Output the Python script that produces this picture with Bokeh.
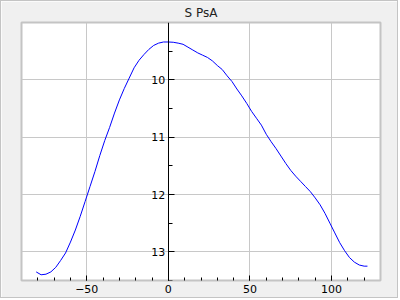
from bokeh.plotting import figure
from bokeh.models import Range1d, FixedTicker
from bokeh.embed import file_html
from bokeh.resources import INLINE

x_vals = [-81, -78, -75, -72, -69, -66, -63, -60, -57, -54, -51, -48, -45, -42, -39, -36, -33, -30,
          -27, -24, -21, -18, -15, -12, -9, -6, -3, 0, 3, 6, 9, 12, 15, 18, 21, 24, 27, 30, 33, 36,
          39, 42, 45, 48, 51, 54, 57, 60, 63, 66, 69, 72, 75, 78, 81, 84, 87, 90, 93, 96, 99, 102,
          105, 108, 111, 114, 117, 120, 122]
y_vals = [13.35, 13.40, 13.39, 13.35, 13.27, 13.15, 13.02, 12.83, 12.62, 12.38, 12.12, 11.86, 11.60,
          11.32, 11.06, 10.83, 10.58, 10.35, 10.15, 9.97, 9.79, 9.66, 9.56, 9.47, 9.40, 9.36, 9.34,
          9.34, 9.345, 9.36, 9.38, 9.43, 9.48, 9.53, 9.57, 9.61, 9.67, 9.75, 9.82, 9.93, 10.03, 10.16,
          10.28, 10.41, 10.55, 10.67, 10.79, 10.95, 11.08, 11.20, 11.33, 11.46, 11.58, 11.68, 11.77,
          11.86, 11.95, 12.06, 12.18, 12.33, 12.50, 12.67, 12.84, 12.98, 13.10, 13.18, 13.23, 13.25,
          13.25]
x_ticks = [-50, 0, 50, 100]
x_minor = list(range(-80, 130, 10))
y_ticks = [10, 11, 12, 13]
y_minor = [9.5, 10.5, 11.5, 12.5, 13.5]

p = figure(width=398, height=298, output_backend="svg", toolbar_location=None,
           x_range=Range1d(-90, 130), y_range=Range1d(13.5, 9.0),
           title="S PsA", min_border_left=20, min_border_right=19,
           min_border_top=0, min_border_bottom=19)
p.styles = {"border": "1px solid #c4c4c4"}
p.background_fill_color = "white"
p.border_fill_color = "#f0f0f0"
p.outline_line_color = "#c4c4c4"
p.outline_line_width = 2

p.title.align = "center"
p.title.text_font = "DejaVu Sans"
p.title.text_font_size = "12px"
p.title.text_font_style = "normal"
p.title.text_color = "#222222"
p.title.standoff = 5
p.title.offset = 0

p.line(x_vals, y_vals, line_color="blue", line_width=1)

p.xaxis.ticker = FixedTicker(ticks=x_ticks, minor_ticks=x_minor)
p.yaxis.ticker = FixedTicker(ticks=y_ticks, minor_ticks=y_minor)
p.xgrid.ticker = FixedTicker(ticks=x_ticks)
p.ygrid.ticker = FixedTicker(ticks=y_ticks)
p.grid.grid_line_color = "#c8c8c8"
p.grid.grid_line_width = 1

for ax in (p.xaxis, p.yaxis):
    ax.major_label_text_font = "DejaVu Sans"
    ax.major_label_text_font_size = "11px"
    ax.major_label_text_color = "black"
    ax.major_tick_line_color = "black"
    ax.minor_tick_line_color = "black"
    ax.major_tick_out = 0
    ax.minor_tick_out = 0

p.xaxis.axis_line_color = "#c4c4c4"
p.xaxis.major_tick_in = 5
p.xaxis.minor_tick_in = 3
p.xaxis.major_label_standoff = 4

p.yaxis.fixed_location = 0
p.yaxis.axis_line_color = "black"
p.yaxis.major_tick_in = 6
p.yaxis.minor_tick_in = 4
p.yaxis.major_label_standoff = 3

open("out.html", "w").write(file_html(p, INLINE))
